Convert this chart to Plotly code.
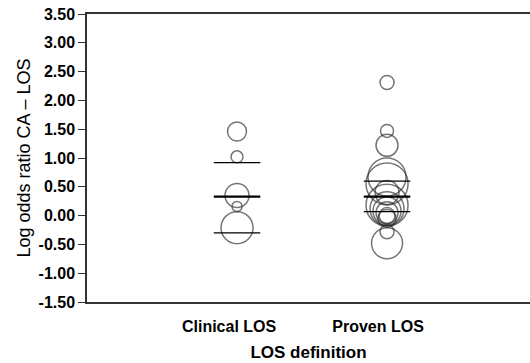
import plotly.graph_objects as go

# Data
groups = ["Clinical LOS", "Proven LOS"]
clinical_vals = [1.46, 1.02, 0.35, 0.16, -0.21]
clinical_weights = [19, 12, 24, 10, 32]
proven_vals = [2.31, 1.47, 1.22, 0.67, 0.55, 0.40, 0.18, 0.12, 0.08, 0.05, 0.00, -0.05, -0.28, -0.48]
proven_weights = [14, 13, 22, 38, 42, 24, 42, 34, 28, 22, 16, 18, 14, 31]
means = [0.33, 0.33]
ci_low = [-0.30, 0.07]
ci_high = [0.92, 0.60]
y_ticks = [3.5, 3.0, 2.5, 2.0, 1.5, 1.0, 0.5, 0.0, -0.5, -1.0, -1.5]
y_ticktext = ["%.2f" % v for v in y_ticks]

circle_line = "rgba(40,40,40,0.9)"
fig = go.Figure()
for i, (vals, w) in enumerate([(clinical_vals, clinical_weights), (proven_vals, proven_weights)]):
    fig.add_trace(go.Scatter(
        x=[i + 1] * len(vals), y=vals, mode="markers",
        marker=dict(size=w, sizemode="diameter", color="rgba(0,0,0,0)",
                    line=dict(color=circle_line, width=1.5)),
        showlegend=False, hoverinfo="y"))

hw = 0.155
for i in range(2):
    xc = i + 1
    for val, lw in [(ci_low[i], 1.3), (ci_high[i], 1.3), (means[i], 2.4)]:
        fig.add_trace(go.Scatter(x=[xc - hw, xc + hw], y=[val, val], mode="lines",
                                 line=dict(color="black", width=lw),
                                 showlegend=False, hoverinfo="skip"))

fig.update_layout(
    width=530, height=363,
    margin=dict(l=87, r=0, t=14, b=61),
    paper_bgcolor="white", plot_bgcolor="white",
    font=dict(family="Liberation Sans, Arial, sans-serif", color="black"),
    xaxis=dict(range=[0, 2.953], tickvals=[0.947, 1.94], ticktext=groups,
               showgrid=False, zeroline=False, ticks="", showline=True, mirror=True,
               linecolor="#333", linewidth=1.5,
               tickfont=dict(size=16, family="Liberation Sans", weight="bold"),
               ticklabelstandoff=9,
               title=dict(text="LOS definition", standoff=12,
                          font=dict(size=17, family="Liberation Sans", weight="bold"))),
    yaxis=dict(range=[-1.5, 3.5], tickvals=y_ticks, ticktext=y_ticktext,
               showgrid=False, zeroline=False, ticks="outside", ticklen=7,
               tickcolor="#333", showline=True, linecolor="#333", linewidth=1.5,
               tickfont=dict(size=16, family="Liberation Sans", weight="bold"),
               title=dict(text="Log odds ratio CA – LOS", standoff=3,
                          font=dict(size=18, family="Liberation Sans"))),
)
fig.write_html("out.html")
